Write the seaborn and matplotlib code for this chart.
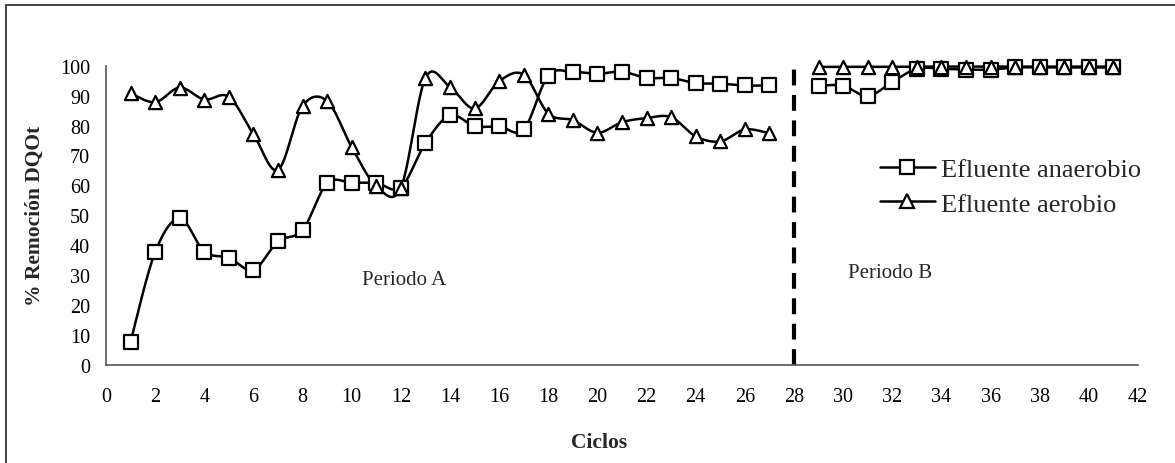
import numpy as np
import pandas as pd
import matplotlib
matplotlib.use("Agg")
import matplotlib.pyplot as plt
import seaborn as sns
from matplotlib.lines import Line2D
from matplotlib.patches import Rectangle

# ---------------- data ----------------
ciclos_a = list(range(1, 28))
anaerobio_a = [7.8, 37.7, 49.0, 37.9, 35.8, 31.8, 41.3, 45.1, 60.7, 60.9,
               60.8, 59.3, 74.2, 83.4, 79.8, 79.7, 78.7, 96.7, 97.9, 97.3,
               98.0, 95.9, 95.9, 94.2, 94.0, 93.4, 93.4]
aerobio_a = [90.8, 87.8, 92.7, 88.7, 89.6, 77.1, 65.2, 86.5, 88.2, 72.8,
             59.8, 59.2, 95.9, 92.9, 85.7, 94.8, 97.0, 84.0, 81.8, 77.6,
             81.1, 82.5, 82.8, 76.4, 74.7, 78.7, 77.4]
ciclos_b = list(range(29, 42))
anaerobio_b = [93.3, 93.3, 89.8, 94.6, 99.0, 99.0, 98.7, 98.7, 99.4, 99.4,
               99.4, 99.4, 99.4]
aerobio_b = [99.6, 99.6, 99.6, 99.6, 99.7, 99.7, 99.7, 99.7, 99.7, 99.7,
             99.7, 99.7, 99.7]
periodo_split = 28
x_ticks = list(range(0, 43, 2))
y_ticks = list(range(0, 101, 10))
series_names = ["Efluente anaerobio", "Efluente aerobio"]
xlabel = "Ciclos"
ylabel = "% Remoción DQOt"


def smooth(x, y, n=24):
    """Excel-like smoothed line (Catmull-Rom / Bezier) through the points."""
    x = np.asarray(x, float)
    y = np.asarray(y, float)
    P = np.column_stack([x, y])
    P = np.vstack([P[0], P, P[-1]])
    t = np.linspace(0, 1, n, endpoint=False)[:, None]
    out = []
    for i in range(len(x) - 1):
        p0, p1, p2, p3 = P[i], P[i + 1], P[i + 2], P[i + 3]
        c1 = p1 + (p2 - p0) / 6.0
        c2 = p2 - (p3 - p1) / 6.0
        b = ((1 - t) ** 3) * p1 + 3 * ((1 - t) ** 2) * t * c1 \
            + 3 * (1 - t) * t ** 2 * c2 + t ** 3 * p2
        out.append(b)
    out.append(P[-2][None, :])
    out = np.vstack(out)
    return out[:, 0], out[:, 1]


sns.set_theme(style="white")
plt.rcParams["font.family"] = ["Liberation Serif", "DejaVu Serif"]

W, H = 1175, 464
fig = plt.figure(figsize=(W / 100, H / 100), dpi=100)
ax = fig.add_axes([106 / W, 1 - 366 / H, (1138 - 106) / W, (366 - 66.7) / H])

lw = 1.8
edge = 1.6
styles = [("s", 110), ("^", 90)]
groups = [
    (series_names[0], [(ciclos_a, anaerobio_a), (ciclos_b, anaerobio_b)]),
    (series_names[1], [(ciclos_a, aerobio_a), (ciclos_b, aerobio_b)]),
]
for (name, segs), (mk, size) in zip(groups, styles):
    for cx, cy in segs:
        sx, sy = smooth(cx, cy)
        sns.lineplot(x=sx, y=sy, sort=False, estimator=None, color="black",
                     linewidth=lw, ax=ax, legend=False)
        sns.scatterplot(x=cx, y=cy, marker=mk, s=size, color="white",
                        edgecolor="black", linewidth=edge, ax=ax,
                        legend=False, zorder=3)
for coll in ax.collections:
    coll.set_clip_on(False)
for ln in ax.lines:
    ln.set_clip_on(False)

ax.axvline(periodo_split, 0, 1, color="black", linewidth=3.0,
           linestyle=(0, (3.8, 2.3)), zorder=1)

ax.set_xlim(0, 42)
ax.set_ylim(0, 100)
ax.set_xticks(x_ticks)
ax.set_yticks(y_ticks)
ax.tick_params(axis="both", which="major", direction="out", length=4.5,
               width=1, colors="#222222", labelsize=14.5, labelcolor="black")
ax.tick_params(axis="x", pad=11)
ax.tick_params(axis="y", pad=7)
for side in ["top", "right"]:
    ax.spines[side].set_visible(False)
for side in ["left", "bottom"]:
    ax.spines[side].set_color("#555555")
    ax.spines[side].set_linewidth(1.2)
ax.grid(False)
ax.set_xlabel("")
ax.set_ylabel("")

fig.text(599 / W, 1 - 443 / H, xlabel, ha="center", va="center",
         fontsize=15.5, fontweight="bold")
fig.text(35 / W, 1 - 216 / H, ylabel, ha="center", va="center",
         rotation=90, fontsize=15.5, fontweight="bold")

ax.text(10.4, 27.0, "Periodo A", ha="left", va="baseline", fontsize=15)
ax.text(30.2, 29.4, "Periodo B", ha="left", va="baseline", fontsize=15)

handles = [
    Line2D([], [], color="black", linewidth=lw, marker="s", markersize=10.5,
           markerfacecolor="white", markeredgecolor="black",
           markeredgewidth=edge),
    Line2D([], [], color="black", linewidth=lw, marker="^", markersize=9.5,
           markerfacecolor="white", markeredgecolor="black",
           markeredgewidth=edge),
]
ax.legend(handles, series_names, loc="upper left",
          bbox_to_anchor=(880 / W, 1 - 158.5 / H), bbox_transform=fig.transFigure,
          frameon=False, fontsize=19, handlelength=2.08, handletextpad=0.25,
          labelspacing=0.42, borderpad=0, borderaxespad=0)

fig.add_artist(Rectangle((6 / W, -0.1), 1.2, 1 - 6 / H + 0.1,
                         transform=fig.transFigure, fill=False,
                         edgecolor="#333333", linewidth=1.3, clip_on=False))

fig.savefig("out.png", dpi=100)
